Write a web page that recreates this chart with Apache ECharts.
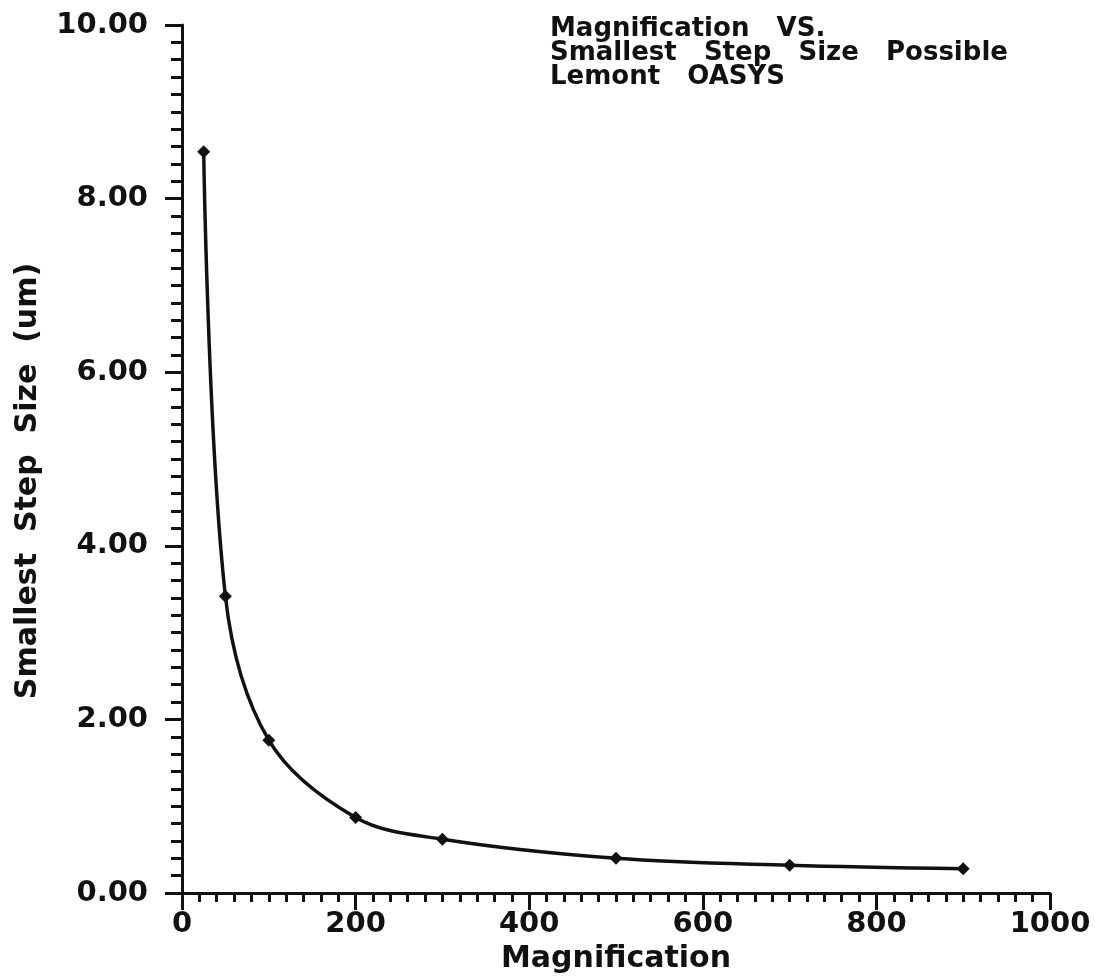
<!DOCTYPE html>
<html>
<head>
<meta charset="utf-8">
<script src="https://cdn.jsdelivr.net/npm/echarts@6/dist/echarts.min.js"></script>
<style>
  html, body { margin: 0; padding: 0; background: #fff; }
  #chart { width: 1095px; height: 980px; }
</style>
</head>
<body>
<div id="chart"></div>
<script>
// Magnification settings and the smallest step size measured at each (um)
const magnification = [25, 50, 100, 200, 300, 500, 700, 900];
const stepSize = [8.54, 3.42, 1.76, 0.87, 0.62, 0.40, 0.32, 0.28];

const titleLines = ['Magnification   VS.', 'Smallest   Step   Size   Possible', 'Lemont   OASYS'];
const xAxisName = 'Magnification';
const yAxisName = 'Smallest  Step  Size  (um)';

const FONT = 'DejaVu Sans';
const INK = '#111';

const chart = echarts.init(document.getElementById('chart'), null, { renderer: 'canvas' });

chart.setOption({
  backgroundColor: '#fff',
  animation: false,
  title: {
    text: titleLines.join('\n'),
    left: 545,
    top: 12,
    textStyle: {
      fontFamily: FONT,
      fontWeight: 'bold',
      fontSize: 26,
      lineHeight: 24,
      color: INK
    }
  },
  grid: { left: 182, right: 45, top: 25, bottom: 87, containLabel: false },
  xAxis: {
    type: 'value',
    min: 0,
    max: 1000,
    interval: 200,
    name: xAxisName,
    nameLocation: 'middle',
    nameGap: 47,
    nameTextStyle: { fontFamily: FONT, fontWeight: 'bold', fontSize: 30, color: INK },
    axisLine: { show: true, onZero: false, lineStyle: { color: INK, width: 3 } },
    axisTick: { show: true, inside: false, length: 17, lineStyle: { color: INK, width: 3 } },
    minorTick: { show: true, splitNumber: 10, length: 9, lineStyle: { color: INK, width: 3 } },
    splitLine: { show: false },
    axisLabel: {
      margin: 17,
      fontFamily: FONT,
      fontWeight: 'bold',
      fontSize: 29,
      color: INK,
      formatter: v => String(v)
    }
  },
  yAxis: {
    type: 'value',
    min: 0,
    max: 10,
    interval: 2,
    name: yAxisName,
    nameLocation: 'middle',
    nameRotate: 90,
    nameGap: 139,
    nameTextStyle: {
      fontFamily: FONT, fontWeight: 'bold', fontSize: 30, color: INK,
      padding: [0, 44, 0, 0]
    },
    axisLine: { show: true, lineStyle: { color: INK, width: 3 } },
    axisTick: { show: true, inside: false, length: 17, lineStyle: { color: INK, width: 3 } },
    minorTick: { show: true, splitNumber: 10, length: 11, lineStyle: { color: INK, width: 3 } },
    splitLine: { show: false },
    axisLabel: {
      margin: 34,
      fontFamily: FONT,
      fontWeight: 'bold',
      fontSize: 29,
      color: INK,
      formatter: v => v.toFixed(2)
    }
  },
  series: [{
    type: 'line',
    data: magnification.map((m, i) => [m, stepSize[i]]),
    smooth: 0.35,
    symbol: 'diamond',
    symbolSize: 13,
    itemStyle: { color: INK },
    lineStyle: { color: INK, width: 3.5 }
  }]
});
</script>
</body>
</html>
